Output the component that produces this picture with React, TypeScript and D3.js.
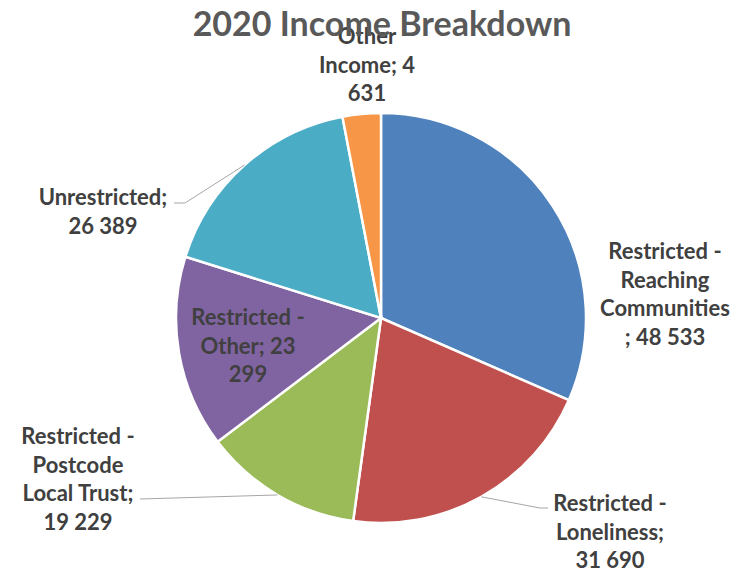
import React, { useEffect, useRef } from 'react';
import * as d3 from 'd3';

const categories = [
  'Restricted - Reaching Communities',
  'Restricted - Loneliness',
  'Restricted - Postcode Local Trust',
  'Restricted - Other',
  'Unrestricted',
  'Other Income',
];
const values = [48533, 31690, 19229, 23299, 26389, 4631];
const colors = ['#4F81BD', '#C0504D', '#9BBB59', '#8064A2', '#4BACC6', '#F79646'];
// label lines as Excel wrapped them
const labelLines = [
  ['Restricted -', 'Reaching', 'Communities', '; 48 533'],
  ['Restricted -', 'Loneliness;', '31 690'],
  ['Restricted -', 'Postcode', 'Local Trust;', '19 229'],
  ['Restricted -', 'Other; 23', '299'],
  ['Unrestricted;', '26 389'],
  ['Other', 'Income; 4', '631'],
];

// label block positions (center x, first line baseline), leader elbow
const labelPos = [
  { x: 665, y: 259, leader: null },
  { x: 610, y: 511, leader: { ex: 548, ey: 508, kx: 540 } },
  { x: 78, y: 444, leader: { ex: 140, ey: 499, kx: 140 } },
  { x: 248, y: 325, leader: null },
  { x: 103, y: 205, leader: { ex: 174, ey: 203, kx: 185 } },
  { x: 367, y: 44, leader: null },
];

const W = 742;
const H = 571;

export default function App() {
  const ref = useRef<SVGSVGElement>(null);

  useEffect(() => {
    const svg = d3.select(ref.current);
    svg.selectAll('*').remove();

    const cx = 381;
    const cy = 318;
    const r = 205;

    const pie = d3.pie<number>().sort(null).value((d) => d);
    const arcs = pie(values);
    const arc = d3.arc<d3.PieArcDatum<number>>().innerRadius(0).outerRadius(r);

    const g = svg.append('g').attr('transform', `translate(${cx},${cy})`);

    g.selectAll('path')
      .data(arcs)
      .enter()
      .append('path')
      .attr('d', arc)
      .attr('fill', (d, i) => colors[i])
      .attr('stroke', '#fff')
      .attr('stroke-width', 2.5);

    // leader lines
    arcs.forEach((d, i) => {
      const lp = labelPos[i];
      if (!lp.leader) return;
      const mid = (d.startAngle + d.endAngle) / 2;
      const px = cx + r * Math.sin(mid);
      const py = cy - r * Math.cos(mid);
      svg
        .append('polyline')
        .attr('points', `${lp.leader.ex},${lp.leader.ey} ${lp.leader.kx},${lp.leader.ey} ${px},${py}`)
        .attr('fill', 'none')
        .attr('stroke', '#a6a6a6')
        .attr('stroke-width', 1);
    });

    // labels
    labelLines.forEach((lines, i) => {
      const lp = labelPos[i];
      const t = svg
        .append('text')
        .attr('text-anchor', 'middle')
        .attr('font-family', 'Lato, sans-serif')
        .attr('font-weight', 'bold')
        .attr('font-size', 22)
        .attr('fill', '#404040');
      lines.forEach((line, j) => {
        t.append('tspan')
          .attr('x', lp.x)
          .attr('y', lp.y + j * 28.5)
          .text(line);
      });
    });

    svg
      .append('text')
      .attr('x', 382)
      .attr('y', 36)
      .attr('text-anchor', 'middle')
      .attr('font-family', 'Lato, sans-serif')
      .attr('font-weight', 'bold')
      .attr('font-size', 34)
      .attr('fill', '#595959')
      .text('2020 Income Breakdown');
  }, []);

  return (
    <svg
      ref={ref}
      width={W}
      height={H}
      style={{ position: 'absolute', left: 0, top: 0, background: '#fff' }}
    />
  );
}
